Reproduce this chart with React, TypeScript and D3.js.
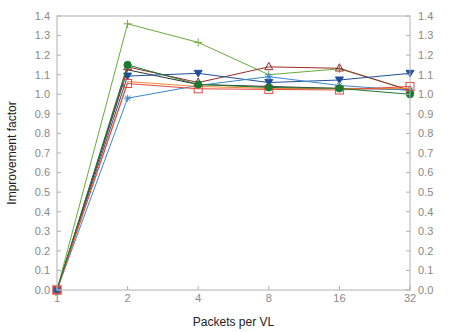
import React from "react";
import * as d3 from "d3";

const packets = [1, 2, 4, 8, 16, 32];
const yTicks = [0, 0.1, 0.2, 0.3, 0.4, 0.5, 0.6, 0.7, 0.8, 0.9, 1.0, 1.1, 1.2, 1.3, 1.4];

const greenPlus = [0, 1.36, 1.265, 1.1, 1.13, 1.02];
const darkGreenCircle = [0, 1.15, 1.05, 1.035, 1.03, 1.0];
const darkRedTriangle = [0, 1.14, 1.06, 1.14, 1.133, 1.02];
const blackLine = [0, 1.125, 1.05, 1.04, 1.03, 1.025];
const navyInvTriangle = [0, 1.093, 1.107, 1.06, 1.073, 1.107];
const blueStar = [0, 0.98, 1.045, 1.09, 1.045, 1.02];
const orangeLine = [0, 1.065, 1.04, 1.03, 1.03, 1.03];
const redSquare = [0, 1.055, 1.028, 1.025, 1.022, 1.04];

type S = { vals: number[]; color: string; marker: string };
const series: S[] = [
  { vals: greenPlus, color: "#6aaa3a", marker: "plus" },
  { vals: blackLine, color: "#333333", marker: "none" },
  { vals: darkRedTriangle, color: "#9c2a2a", marker: "tri" },
  { vals: navyInvTriangle, color: "#1f4f9c", marker: "invtri" },
  { vals: blueStar, color: "#3a86d0", marker: "star" },
  { vals: orangeLine, color: "#f08a30", marker: "none" },
  { vals: redSquare, color: "#e8473c", marker: "square" },
  { vals: darkGreenCircle, color: "#1b7a32", marker: "circle" },
];

const L = 57, R = 410, T = 16, B = 290;

function Marker({ type, x, y, color }: { type: string; x: number; y: number; color: string }) {
  switch (type) {
    case "plus":
      return <path d={`M${x - 4},${y}H${x + 4}M${x},${y - 4}V${y + 4}`} stroke={color} strokeWidth={1} fill="none" />;
    case "tri":
      return <path d={`M${x},${y - 4.5}L${x + 4},${y + 2.8}L${x - 4},${y + 2.8}Z`} stroke={color} strokeWidth={1} fill="none" />;
    case "invtri":
      return <path d={`M${x},${y + 3.5}L${x + 4},${y - 3}L${x - 4},${y - 3}Z`} stroke={color} strokeWidth={1} fill={color} />;
    case "star":
      return <path d={`M${x - 3.5},${y}H${x + 3.5}M${x},${y - 3.5}V${y + 3.5}M${x - 2.6},${y - 2.6}L${x + 2.6},${y + 2.6}M${x - 2.6},${y + 2.6}L${x + 2.6},${y - 2.6}`} stroke={color} strokeWidth={1} fill="none" />;
    case "square":
      return <rect x={x - 4} y={y - 4} width={8} height={8} stroke={color} strokeWidth={1} fill="none" />;
    case "circle":
      return <circle cx={x} cy={y} r={3.6} fill={color} stroke={color} />;
    default:
      return null;
  }
}

export default function App() {
  const x = d3.scaleLog().base(2).domain([1, 32]).range([L, R]);
  const y = d3.scaleLinear().domain([0, 1.4]).range([B, T]);
  const line = d3.line<number>().x((_, i) => x(packets[i])).y((d) => y(d));
  const axisColor = "#b0b0b0";
  const textColor = "#888888";
  const font = "Liberation Sans, Arial, sans-serif";
  return (
    <svg width={473} height={332} style={{ position: "absolute", left: 0, top: 0 }} fontFamily={font}>
      <rect width={473} height={332} fill="#fff" />
      {series.map((s, k) => (
        <g key={k}>
          <path d={line(s.vals) || ""} fill="none" stroke={s.color} strokeWidth={1} />
          {s.vals.map((v, i) => (
            <Marker key={i} type={s.marker} x={x(packets[i])} y={y(v)} color={s.color} />
          ))}
        </g>
      ))}
      <rect x={x(1) - 4.5} y={y(0) - 4.5} width={9} height={9} fill="#e8473c" opacity={0.85} />
      <circle cx={x(1)} cy={y(0)} r={3.3} fill="#1f5fa8" />
      <rect x={L} y={T} width={R - L} height={B - T} fill="none" stroke={axisColor} strokeWidth={1} />
      {yTicks.map((t) => (
        <g key={t}>
          <line x1={L} x2={L + 4} y1={y(t)} y2={y(t)} stroke={axisColor} />
          <line x1={R - 4} x2={R} y1={y(t)} y2={y(t)} stroke={axisColor} />
          <text x={L - 7} y={y(t)} dy="0.35em" textAnchor="end" fontSize={11} fill={textColor}>
            {t.toFixed(1)}
          </text>
          <text x={R + 8} y={y(t)} dy="0.35em" textAnchor="start" fontSize={11} fill={textColor}>
            {t.toFixed(1)}
          </text>
        </g>
      ))}
      {packets.map((p) => (
        <g key={p}>
          <line x1={x(p)} x2={x(p)} y1={B} y2={B - 4} stroke={axisColor} />
          <text x={x(p)} y={302} textAnchor="middle" fontSize={11} fill={textColor}>
            {p}
          </text>
        </g>
      ))}
      <text x={(L + R) / 2} y={326} textAnchor="middle" fontSize={12} fill="#222">
        Packets per VL
      </text>
      <text transform={`translate(16,${(T + B) / 2}) rotate(-90)`} textAnchor="middle" fontSize={12} fill="#222">
        Improvement factor
      </text>
    </svg>
  );
}
